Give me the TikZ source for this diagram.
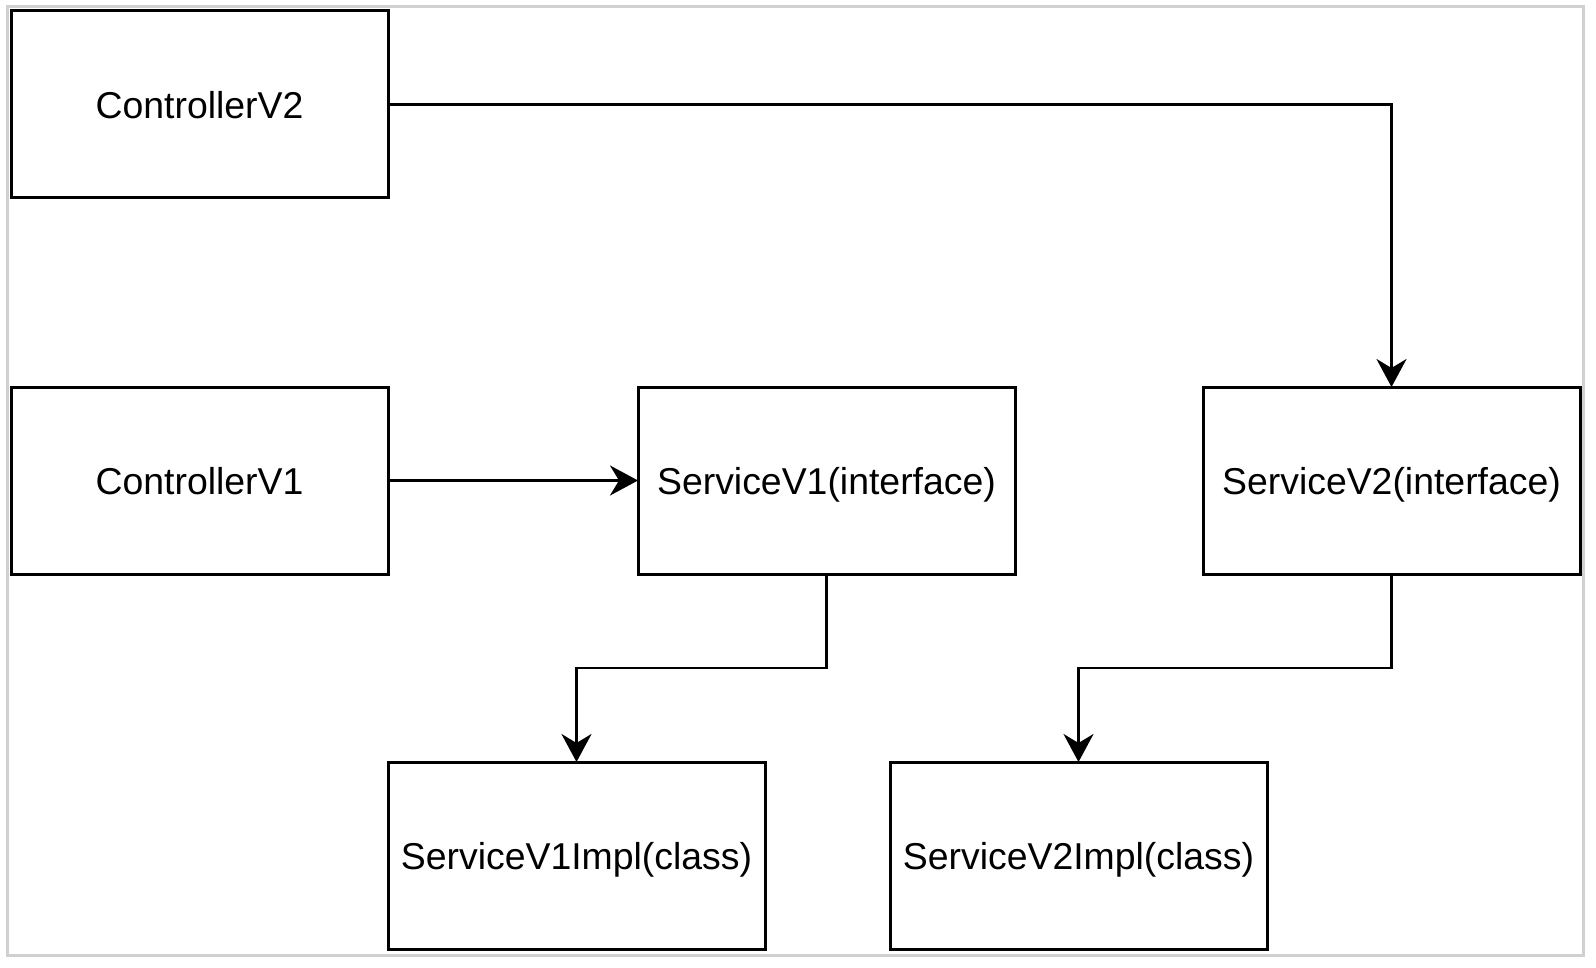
\documentclass[tikz,border=0pt]{standalone}
\usepackage{fontspec}
\setmainfont{Liberation Sans}
\usetikzlibrary{arrows.meta, positioning}

\begin{document}
\begin{tikzpicture}[
        x=1pt, y=1pt,
        node distance=94pt,
        block/.style={rectangle, draw, line width=1.5pt, minimum width=188.5pt, minimum height=93.5pt, inner sep=0pt, outer sep=0pt, text depth=0pt, font=\fontsize{18.7}{22}\selectfont},
        arrow/.style={line width=1.3pt, -{Stealth[length=14pt, width=15pt, inset=4.5pt]}}
    ]
        \useasboundingbox (0,0) rectangle (798,-484);
        \draw[line width=1.5pt, color={rgb,255:red,208;green,208;blue,208}] (3.5,-3.5) rectangle (791.5,-477.5);

        \node[block] (ctrl2) at (99.75,-52.25) {ControllerV2};
        \node[block, below=94.5pt of ctrl2] (ctrl1) {ControllerV1};
        \node[block, right=125pt of ctrl1] (svc1) {ServiceV1(interface)};
        \node[block, right=94pt of svc1] (svc2) {ServiceV2(interface)};
        \node[block, below right=94pt and 0pt of ctrl1.south east] (impl1) {ServiceV1Impl(class)};
        \node[block, right=62.5pt of impl1] (impl2) {ServiceV2Impl(class)};

        \draw[arrow] (ctrl2.east) -| (svc2.north);
        \draw[arrow] (ctrl1) -- (svc1);
        \draw[arrow] (svc1.south) -- ++(0,-47) -| (impl1.north);
        \draw[arrow] (svc2.south) -- ++(0,-47) -| (impl2.north);
    \end{tikzpicture}
\end{document}
